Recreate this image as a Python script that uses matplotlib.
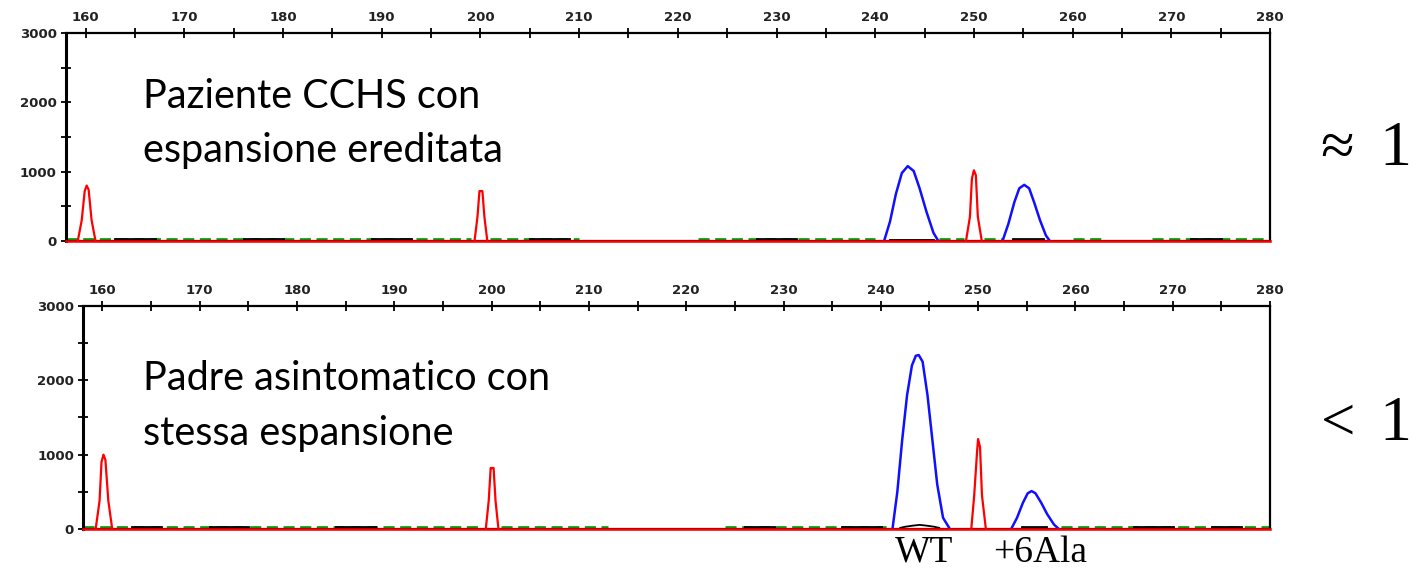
import matplotlib
matplotlib.use("Agg")
import matplotlib.pyplot as plt
from matplotlib.ticker import MultipleLocator

# Pannello superiore: paziente CCHS
top_red_x = [[159.2, 159.6, 159.9, 160.1, 160.3, 160.6, 161.0],
             [199.4, 199.7, 199.9, 200.0, 200.2, 200.4, 200.7],
             [249.2, 249.6, 249.8, 250.0, 250.2, 250.4, 250.8]]
top_red_y = [[0, 300, 720, 800, 740, 300, 0],
             [0, 350, 720, 720, 720, 350, 0],
             [0, 350, 900, 1020, 950, 350, 0]]
top_blue_x = [[240.9, 241.5, 242.1, 242.7, 243.3, 243.9, 244.5, 245.2, 245.9, 246.4],
              [252.9, 253.5, 254.1, 254.6, 255.1, 255.6, 256.1, 256.7, 257.3, 257.7]]
top_blue_y = [[0, 280, 680, 980, 1080, 1010, 760, 420, 120, 0],
              [0, 250, 560, 760, 810, 760, 560, 300, 80, 0]]
top_black_x = [241.5, 246.0]
top_black_y = [20, 20]

# Pannello inferiore: padre asintomatico
bot_red_x = [[159.3, 159.7, 159.9, 160.1, 160.3, 160.6, 161.0],
             [199.4, 199.7, 199.9, 200.0, 200.2, 200.4, 200.7],
             [249.3, 249.6, 249.9, 250.0, 250.2, 250.4, 250.8]]
bot_red_y = [[0, 380, 900, 1000, 930, 380, 0],
             [0, 380, 820, 820, 820, 380, 0],
             [0, 450, 1050, 1210, 1100, 450, 0]]
bot_blue_x = [[241.2, 241.7, 242.2, 242.7, 243.2, 243.6, 243.9, 244.3, 244.8, 245.3, 245.8, 246.4, 247.1],
              [253.4, 254.0, 254.6, 255.1, 255.5, 255.9, 256.5, 257.1, 257.8, 258.3]]
bot_blue_y = [[0, 500, 1200, 1800, 2200, 2330, 2340, 2250, 1800, 1200, 600, 150, 0],
              [0, 150, 350, 480, 510, 480, 350, 200, 60, 0]]
bot_black_x = [242.0, 242.5, 243.3, 244.0, 244.7, 245.5, 246.0]
bot_black_y = [15, 30, 45, 55, 45, 30, 15]

# rumore di fondo (tratti verdi / neri sulla linea di base)
top_green_spans = [(158, 199), (201, 210), (222, 240), (246.5, 249), (251, 253), (260, 263), (268, 280)]
top_dark_spans = [(163, 167), (176, 180), (189, 193), (205, 209), (228, 232), (254, 257), (272, 275)]
bot_green_spans = [(158, 199), (201, 212), (224, 241), (258.5, 280)]
bot_dark_spans = [(163, 166), (171, 175), (184, 188), (226, 229), (236, 240), (254.5, 257), (266, 270), (274, 277)]

labels = ["Paziente CCHS con\nespansione ereditata", "Padre asintomatico con\nstessa espansione"]
ratios = ["\u2248 1", "< 1"]
peak_names = ["WT", "+6Ala"]

W, H = 1412, 571
fig = plt.figure(figsize=(W / 100, H / 100), dpi=100)
ax_top = fig.add_axes([0.0467, 0.5779, 0.8527, 0.3643])
ax_bot = fig.add_axes([0.0588, 0.0736, 0.8406, 0.3905])

panels = [
    (ax_top, top_red_x, top_red_y, top_blue_x, top_blue_y, top_black_x, top_black_y, top_green_spans, top_dark_spans),
    (ax_bot, bot_red_x, bot_red_y, bot_blue_x, bot_blue_y, bot_black_x, bot_black_y, bot_green_spans, bot_dark_spans),
]

for i, (ax, rx, ry, bx, by, kx, ky, gsp, dsp) in enumerate(panels):
    for a, b in gsp:
        ax.plot([a, b], [32, 32], color="#10a010", lw=2.0, ls=(0, (4, 2)), clip_on=False, zorder=2)
    for a, b in dsp:
        ax.plot([a, b], [22, 22], color="black", lw=2.0, clip_on=False, zorder=2)
    ax.plot(kx, ky, color="black", lw=1.3, zorder=3)
    for xs, ys in zip(bx, by):
        ax.plot(xs, ys, color="#1010ff", lw=1.8, zorder=3)
    for xs, ys in zip(rx, ry):
        ax.plot(xs, ys, color="red", lw=1.6, zorder=4)
    ax.plot([158, 280], [0, 0], color="red", lw=1.8, clip_on=False, zorder=5)

    ax.set_xlim(158, 280)
    ax.set_ylim(0, 3000)
    ax.xaxis.set_major_locator(MultipleLocator(10))
    ax.xaxis.set_minor_locator(MultipleLocator(5))
    ax.yaxis.set_major_locator(MultipleLocator(1000))
    ax.yaxis.set_minor_locator(MultipleLocator(500))
    ax.tick_params(which="both", direction="inout", length=7, width=1.3,
                   top=True, bottom=False, labeltop=True, labelbottom=False,
                   labelsize=9.5, pad=3)
    for lab in ax.get_xticklabels() + ax.get_yticklabels():
        lab.set_fontfamily("DejaVu Sans")
        lab.set_fontweight("bold")
        lab.set_color("#222222")
    for sp in ax.spines.values():
        sp.set_linewidth(1.6)
        sp.set_color("black")
    ax.spines["left"].set_linewidth(2.2)

# testi (posizioni in pixel della figura, linea di base)
label_baselines = [(108, 162), (390, 445)]
for lab, ys in zip(labels, label_baselines):
    for line, y in zip(lab.split("\n"), ys):
        fig.text(143 / W, 1 - y / H, line, fontsize=28.5, family="Lato", ha="left", va="baseline")

ratio_pos = [(1337, 1395, 165), (1338, 1395, 440)]
for r, (xs, xd, y) in zip(ratios, ratio_pos):
    sym, one = r.split(" ")
    fig.text(xs / W, 1 - y / H, sym, fontsize=44, family="Liberation Serif", ha="center", va="baseline")
    fig.text(xd / W, 1 - y / H, one, fontsize=46, family="Liberation Serif", ha="center", va="baseline")

fig.text(895 / W, 1 - 562 / H, peak_names[0], fontsize=27, family="Liberation Serif", ha="left", va="baseline")
fig.text(993 / W, 1 - 562 / H, peak_names[1], fontsize=27, family="Liberation Serif", ha="left", va="baseline")

fig.savefig("out.png", dpi=100)
